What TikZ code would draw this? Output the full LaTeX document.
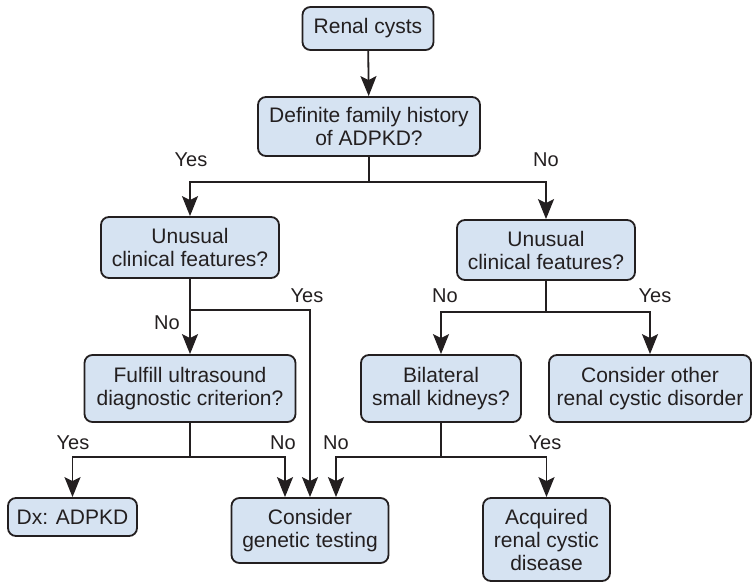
\documentclass[tikz,border=0pt]{standalone}
\usepackage{fontspec}
\setmainfont{Liberation Sans}
\usetikzlibrary{arrows.meta,calc}
\definecolor{boxfill}{RGB}{214,227,242}
\definecolor{ink}{RGB}{35,31,32}
\tikzset{
  box/.style={draw=ink,line width=1.8pt,fill=boxfill,rounded corners=8pt,align=center,
    font=\fontsize{21}{23}\selectfont,inner sep=0pt,text=ink},
  conn/.style={draw=ink,line width=1.8pt},
  arr/.style={conn,->,>={Stealth[length=20pt,width=16pt,inset=4pt]}},
  lbl/.style={font=\fontsize{20}{22}\selectfont,text=ink,inner sep=0pt}}
\begin{document}
\begin{tikzpicture}
\useasboundingbox (0pt,0pt) rectangle (753pt,-583pt);
\begin{scope}[x=1pt,y=-1pt]
\node[box,minimum width=131pt,minimum height=43pt] (rc) at (368,28.5) {Renal cysts};
\node[box,minimum width=222pt,minimum height=59pt] (fh) at (369,126.5) {Definite family history\\of ADPKD?};
\node[box,minimum width=178pt,minimum height=61pt] (ul) at (190,247.5) {Unusual\\clinical features?};
\node[box,minimum width=178pt,minimum height=60pt] (ur) at (546,250) {Unusual\\clinical features?};
\node[box,minimum width=211pt,minimum height=67pt] (fu) at (190,388.5) {Fulfill ultrasound\\diagnostic criterion?};
\node[box,minimum width=160pt,minimum height=67pt] (bi) at (441,388.5) {Bilateral\\small kidneys?};
\node[box,minimum width=202pt,minimum height=67pt] (co) at (650,388.5) {Consider other\\renal cystic disorder};
\node[box,minimum width=129pt,minimum height=38pt] (dx) at (72.5,517) {Dx: ADPKD};
\node[box,minimum width=157pt,minimum height=65pt] (cg) at (310,530.5) {Consider\\genetic testing};
\node[box,minimum width=127pt,minimum height=83pt] (ac) at (546.5,539.5) {Acquired\\renal cystic\\disease};

\coordinate (j1) at (369,182);
\coordinate (j2) at (190,310);
\coordinate (j2r) at (310,310);
\coordinate (j3) at (190,457);
\coordinate (j3r) at (285,457);
\coordinate (j4) at (441,457);
\coordinate (j4l) at (336,457);
\coordinate (j5) at (546,312);
\end{scope}

\draw[arr] (rc) -- (fh);
\draw[conn] (fh) -- (j1);
\draw[arr] (j1) -| (ul);
\draw[arr] (j1) -| (ur);
\draw[arr] (ul) -- (fu);
\draw[arr] (j2) -- (j2r) -- (j2r |- cg.north);
\draw[conn] (fu) -- (j3);
\draw[arr] (j3) -| (dx);
\draw[arr] (j3) -- (j3r) -- (j3r |- cg.north);
\draw[conn] (ur) -- (j5);
\draw[arr] (j5) -| (bi);
\draw[arr] (j5) -| (co);
\draw[conn] (bi) -- (j4);
\draw[arr] (j4) -- (j4l) -- (j4l |- cg.north);
\draw[arr] (j4) -| (ac);

\begin{scope}[x=1pt,y=-1pt]
\node[lbl] (l1) at (191,160) {Yes};
\node[lbl] (l2) at (546,160) {No};
\node[lbl] (l3) at (307,296) {Yes};
\node[lbl] (l4) at (167,323) {No};
\node[lbl] (l5) at (445,296) {No};
\node[lbl] (l6) at (655,296) {Yes};
\node[lbl] (l7) at (73,443) {Yes};
\node[lbl] (l8) at (283,443) {No};
\node[lbl] (l9) at (336,443) {No};
\node[lbl] (l10) at (545,443) {Yes};
\end{scope}
\end{tikzpicture}
\end{document}
